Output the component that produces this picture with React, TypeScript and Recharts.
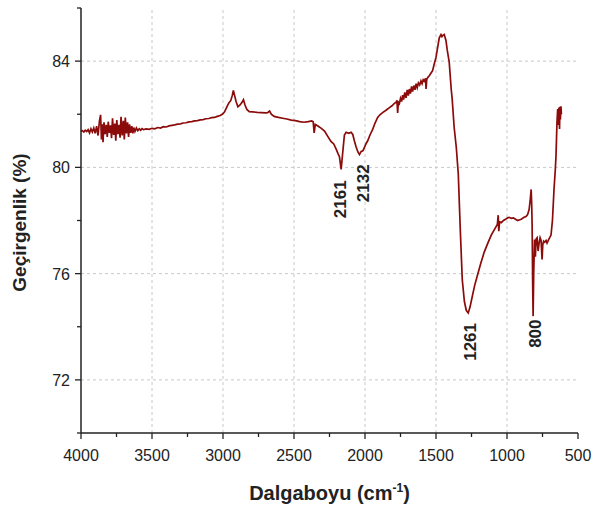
import { LineChart, Line, XAxis, YAxis, ReferenceLine, ReferenceDot, Label } from 'recharts';

// FTIR spectrum (wavenumber in cm-1, transmittance in %)
const wavenumber = [
  4000, 3990, 3980, 3970, 3960, 3950, 3940, 3930, 3920, 3910, 3900, 3890, 3880, 3870, 3862, 3856,
  3850, 3845, 3838, 3830, 3822, 3815, 3808, 3800, 3792, 3785, 3778, 3770, 3762, 3755, 3748, 3740,
  3732, 3725, 3718, 3710, 3702, 3695, 3688, 3680, 3672, 3665, 3658, 3650, 3642, 3635, 3628, 3620,
  3610, 3600, 3590, 3580, 3570, 3560, 3540, 3520, 3500, 3480, 3460, 3440, 3420, 3400, 3380, 3360,
  3340, 3320, 3300, 3280, 3260, 3240, 3220, 3200, 3180, 3160, 3140, 3120, 3100, 3080, 3060, 3040,
  3020, 3005, 2990, 2975, 2960, 2945, 2935, 2927, 2918, 2908, 2895, 2880, 2866, 2856, 2845, 2832,
  2815, 2790, 2760, 2730, 2700, 2686, 2672, 2660, 2640, 2610, 2580, 2550, 2520, 2490, 2460, 2430,
  2400, 2375, 2365, 2358, 2350, 2332, 2310, 2285, 2260, 2240, 2220, 2200, 2190, 2180, 2168, 2157,
  2145, 2133, 2115, 2098, 2086, 2075, 2063, 2050, 2039, 2027, 2015, 2004, 1990, 1981, 1965, 1946,
  1930, 1911, 1895, 1876, 1860, 1845, 1828, 1810, 1795, 1781, 1775, 1770, 1765, 1758, 1750, 1742,
  1735, 1728, 1720, 1711, 1703, 1695, 1688, 1680, 1672, 1665, 1656, 1648, 1640, 1632, 1624, 1615,
  1606, 1598, 1590, 1582, 1574, 1570, 1565, 1556, 1547, 1535, 1524, 1512, 1500, 1489, 1477, 1465,
  1458, 1450, 1442, 1430, 1421, 1407, 1393, 1386, 1372, 1357, 1343, 1329, 1315, 1300, 1287, 1273,
  1260, 1245, 1228, 1210, 1185, 1161, 1135, 1111, 1090, 1076, 1068, 1062, 1058, 1052, 1040, 1025,
  1010, 995, 985, 970, 955, 940, 925, 915, 900, 880, 866, 855, 844, 836, 830, 826,
  823, 819, 816, 812, 806, 800, 795, 788, 781, 774, 767, 760, 753, 748, 742, 735,
  725, 718, 705, 690, 680, 669, 660, 655, 648, 643, 638, 634, 630, 627, 624, 620,
  617,
];

const transmittance = [
  81.36, 81.38, 81.33, 81.4, 81.35, 81.42, 81.3, 81.45, 81.33, 81.48, 81.28, 81.55, 81.2, 81.75, 81.98, 81.05,
  81.62, 80.95, 81.7, 81.25, 81.6, 81.15, 81.72, 81.3, 81.58, 81.1, 81.85, 81.22, 81.65, 81.0, 81.78, 81.25,
  81.6, 81.12, 81.9, 81.2, 81.75, 81.05, 81.88, 81.28, 81.7, 81.15, 81.62, 81.3, 81.55, 81.28, 81.5, 81.35,
  81.48, 81.38, 81.45, 81.4, 81.46, 81.42, 81.45, 81.43, 81.47, 81.45, 81.5, 81.48, 81.53, 81.52, 81.56, 81.58,
  81.6, 81.63, 81.64, 81.67, 81.68, 81.71, 81.72, 81.75, 81.76, 81.79, 81.8, 81.83, 81.84, 81.87, 81.88, 81.92,
  81.95, 82.0, 82.08, 82.25, 82.42, 82.52, 82.7, 82.9, 82.7, 82.48, 82.28, 82.35, 82.45, 82.55, 82.35, 82.18,
  82.1, 82.09, 82.07, 82.06, 82.05, 82.06, 82.12, 82.0, 81.92, 81.88, 81.85, 81.82, 81.78, 81.76, 81.72, 81.7,
  81.72, 81.75, 81.72, 81.3, 81.62, 81.56, 81.48, 81.37, 81.15, 80.98, 80.88, 80.65, 80.52, 80.4, 79.92, 80.55,
  81.22, 81.32, 81.28, 81.32, 81.24, 81.0, 80.78, 80.58, 80.48, 80.6, 80.62, 80.75, 80.92, 81.0, 81.22, 81.43,
  81.66, 81.88, 81.98, 82.06, 82.12, 82.18, 82.25, 82.32, 82.4, 82.45, 82.52, 82.05, 82.45, 82.4, 82.6, 82.48,
  82.72, 82.55, 82.82, 82.62, 82.92, 82.7, 82.95, 82.78, 83.05, 82.85, 83.08, 82.92, 83.15, 83.0, 83.18, 83.1,
  83.25, 83.15, 83.3, 83.25, 83.35, 82.95, 83.32, 83.4, 83.45, 83.55, 83.64, 83.9, 84.14, 84.5, 84.88, 85.0,
  84.92, 84.98, 85.0, 84.78, 84.42, 83.96, 82.95, 82.57, 81.5, 80.75, 79.74, 77.66, 75.77, 74.95, 74.62, 74.52,
  74.75, 75.13, 75.55, 75.9, 76.38, 76.8, 77.15, 77.45, 77.65, 77.78, 77.85, 78.2, 77.6, 77.95, 77.92, 78.0,
  78.05, 78.1, 78.12, 78.08, 78.1, 78.05, 78.0, 78.02, 78.05, 78.12, 78.15, 78.22, 78.42, 78.8, 79.17, 78.6,
  77.8, 75.5, 74.4, 76.0, 77.28, 76.64, 77.3, 77.35, 76.85, 77.15, 77.35, 77.25, 76.53, 77.1, 77.22, 77.18,
  77.25, 77.15, 77.3, 77.45, 78.0, 79.17, 79.9, 80.42, 81.7, 82.2, 81.6, 82.25, 81.45, 82.28, 81.8, 82.3,
  82.0,
];

const xTicks = [4000, 3750, 3500, 3250, 3000, 2750, 2500, 2250, 2000, 1750, 1500, 1250, 1000, 750, 500];
const yTicks = [70, 72, 74, 76, 78, 80, 82, 84, 86];
const xGrid = [3500, 3000, 2500, 2000, 1500, 1000];
const yGrid = [72, 76, 80, 84];

const peakNames = ['2161', '2132', '1261', '800'];
const peakWave = [2173, 2011, 1259, 802];
const peakLevel = [78.8, 79.4, 73.43, 73.74];

const data = wavenumber.map((w, i) => ({ w, t: transmittance[i] }));

const INK = '#222';
const LINE = '#8b0a0a';
const FONT = '"Liberation Sans", Arial, sans-serif';

function XTick(props: any) {
  const { x, y, payload } = props;
  const major = payload.value % 500 === 0;
  return (
    <g>
      <line x1={x} x2={x} y1={y} y2={y + (major ? 6 : 4)} stroke={INK} strokeWidth={1.3} />
      {major && (
        <text x={x} y={y + 28} textAnchor="middle" fontSize={16} fill={INK} fontFamily={FONT}>
          {payload.value}
        </text>
      )}
    </g>
  );
}

function YTick(props: any) {
  const { x, y, payload } = props;
  const major = (payload.value - 72) % 4 === 0;
  return (
    <g>
      <line x1={x} x2={x - (major ? 6 : 4)} y1={y} y2={y} stroke={INK} strokeWidth={1.3} />
      {major && (
        <text x={x - 11} y={y} dy={6} textAnchor="end" fontSize={16} fill={INK} fontFamily={FONT}>
          {payload.value}
        </text>
      )}
    </g>
  );
}

export default function App() {
  return (
    <div style={{ position: 'absolute', left: 0, top: 0, fontFamily: FONT }}>
      <LineChart width={592} height={505} data={data} margin={{ top: 8, right: 14, bottom: 0, left: 0 }}>
        <XAxis
          dataKey="w"
          type="number"
          domain={[500, 4000]}
          reversed
          ticks={xTicks}
          interval={0}
          tickSize={0}
          tickMargin={0}
          tickLine={false}
          tick={(p: any) => <XTick {...p} />}
          axisLine={{ stroke: INK, strokeWidth: 1.5 }}
          height={72}
        >
          <Label
            content={(p: any) => {
              const vb = p.viewBox;
              return (
                <text x={vb.x + vb.width / 2} y={vb.y + 67} textAnchor="middle" fontSize={20} fontWeight="bold" fill={INK} fontFamily={FONT}>
                  Dalgaboyu (cm<tspan dy={-8} fontSize={12}>-1</tspan><tspan dy={8}>)</tspan>
                </text>
              );
            }}
          />
        </XAxis>
        <YAxis
          type="number"
          domain={[70, 86]}
          ticks={yTicks}
          interval={0}
          tickSize={0}
          tickMargin={0}
          tickLine={false}
          tick={(p: any) => <YTick {...p} />}
          axisLine={{ stroke: INK, strokeWidth: 1.5 }}
          width={81}
        >
          <Label
            content={(p: any) => {
              const vb = p.viewBox;
              const cx = vb.x + 19;
              const cy = vb.y + vb.height / 2 + 2;
              return (
                <text x={cx} y={cy} transform={`rotate(-90, ${cx}, ${cy})`} textAnchor="middle" dominantBaseline="central" fontSize={19} fontWeight="bold" fill={INK} fontFamily={FONT}>
                  Geçirgenlik (%)
                </text>
              );
            }}
          />
        </YAxis>
        {xGrid.map((g) => (
          <ReferenceLine key={`x${g}`} x={g} stroke="#c8c8c8" strokeDasharray="3 3" strokeWidth={1} />
        ))}
        {yGrid.map((g) => (
          <ReferenceLine key={`y${g}`} y={g} stroke="#c8c8c8" strokeDasharray="3 3" strokeWidth={1} />
        ))}
        <Line
          type="linear"
          dataKey="t"
          stroke={LINE}
          strokeWidth={1.7}
          dot={false}
          activeDot={false}
          isAnimationActive={false}
        />
        {peakNames.map((name, i) => (
          <ReferenceDot
            key={name}
            x={peakWave[i]}
            y={peakLevel[i]}
            r={0}
            shape={(p: any) => (
              <text
                x={p.cx}
                y={p.cy}
                transform={`rotate(-90, ${p.cx}, ${p.cy})`}
                textAnchor="middle"
                dominantBaseline="central"
                fontSize={17}
                fontWeight="bold"
                fill={INK}
                fontFamily={FONT}
              >
                {name}
              </text>
            )}
          />
        ))}
      </LineChart>
    </div>
  );
}
